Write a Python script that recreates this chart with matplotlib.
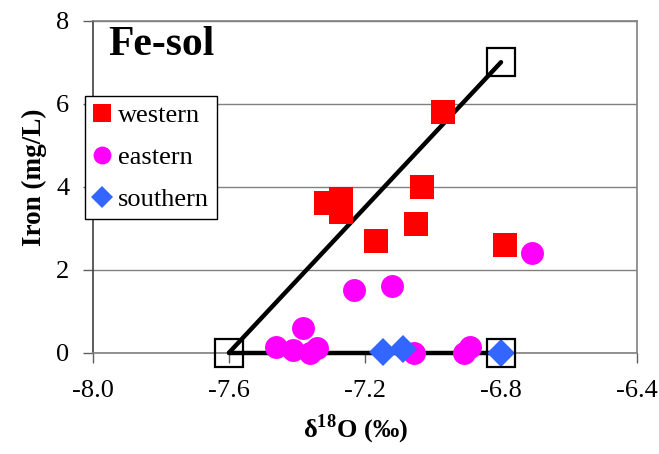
import matplotlib
matplotlib.use("Agg")
import matplotlib.pyplot as plt

# values
western_x = [-7.314, -7.270, -7.270, -7.169, -7.050, -7.032, -6.970, -6.789]
western_y = [3.6, 3.7, 3.4, 2.7, 3.1, 4.0, 5.8, 2.6]

eastern_x = [-7.461, -7.412, -7.381, -7.361, -7.341, -7.231, -7.120, -7.057, -6.909, -6.890, -6.708]
eastern_y = [0.14, 0.07, 0.60, 0.0, 0.12, 1.51, 1.61, 0.0, 0.0, 0.13, 2.41]

southern_x = [-7.148, -7.089, -6.800]
southern_y = [0.02, 0.08, 0.0]

# end-members and mixing lines
end_x = [-7.6, -6.8, -6.8]
end_y = [0.0, 0.0, 7.0]
mix_lines = [([-7.6, -6.8], [0.0, 7.0]), ([-7.6, -6.8], [0.0, 0.0])]

x_ticks = [-8.0, -7.6, -7.2, -6.8, -6.4]
y_ticks = [0, 2, 4, 6, 8]

plt.rcParams['font.family'] = ['Liberation Serif', 'DejaVu Serif']
plt.rcParams['axes.unicode_minus'] = False
plt.rcParams['mathtext.fontset'] = 'custom'
plt.rcParams['mathtext.rm'] = 'Liberation Serif'
plt.rcParams['mathtext.bf'] = 'Liberation Serif:bold'

fig = plt.figure(figsize=(6.59, 4.54), dpi=100)
ax = fig.add_axes([93 / 659, 1 - 352.7 / 454, (637 - 93) / 659, (352.7 - 20.7) / 454])

for lx, ly in mix_lines:
    ax.plot(lx, ly, color='black', linewidth=3.2, solid_capstyle='round', zorder=3, clip_on=False)

ax.plot(western_x, western_y, 's', color='#FF0000', markersize=17, markeredgewidth=0,
        label='western', zorder=4, clip_on=False)
ax.plot(eastern_x, eastern_y, 'o', color='#FF00FF', markersize=16.5, markeredgewidth=0,
        label='eastern', zorder=5, clip_on=False)
ax.plot(southern_x, southern_y, 'D', color='#3366FF', markersize=14.5, markeredgewidth=0,
        label='southern', zorder=6, clip_on=False)
ax.plot(end_x, end_y, 's', markerfacecolor='none', markeredgecolor='black',
        markersize=19.5, markeredgewidth=1.6, zorder=7, clip_on=False)

ax.set_xlim(-8.0, -6.4)
ax.set_ylim(0, 8)
ax.set_xticks(x_ticks)
ax.set_xticklabels([f"{v:.1f}" for v in x_ticks])
ax.set_yticks(y_ticks)
ax.tick_params(axis='both', direction='out', length=7, width=1, colors='#606060',
               labelcolor='black', labelsize=19)
ax.tick_params(axis='x', pad=13)
ax.tick_params(axis='y', pad=10)

ax.grid(axis='y', color='#808080', linewidth=1)
ax.set_axisbelow(True)
for side in ['top', 'right', 'bottom']:
    ax.spines[side].set_color('#808080')
    ax.spines[side].set_linewidth(1.2)
ax.spines['left'].set_color('#404040')
ax.spines['left'].set_linewidth(1.2)

ax.set_xlabel(r'δ$^{\mathbf{18}}$O (‰)', fontsize=19, fontweight='bold')
ax.set_ylabel('Iron (mg/L)', fontsize=19.5, fontweight='bold')
ax.xaxis.set_label_coords(0.4835, -0.18)
ax.yaxis.set_label_coords(-0.084, 0.528)

ax.text(0.028, 0.985, 'Fe-sol', transform=ax.transAxes, fontsize=30, fontweight='bold',
        va='top', ha='left')

leg = ax.legend(loc='upper left', bbox_to_anchor=(85 / 659, 1 - 96 / 454),
                bbox_transform=fig.transFigure, fontsize=19, frameon=True, fancybox=False,
                edgecolor='black', framealpha=1, borderaxespad=0, handlelength=0.7,
                handletextpad=0.25, labelspacing=0.7, borderpad=0.3, markerscale=0.78)
leg.get_frame().set_linewidth(1)

fig.savefig('out.png', dpi=100)
